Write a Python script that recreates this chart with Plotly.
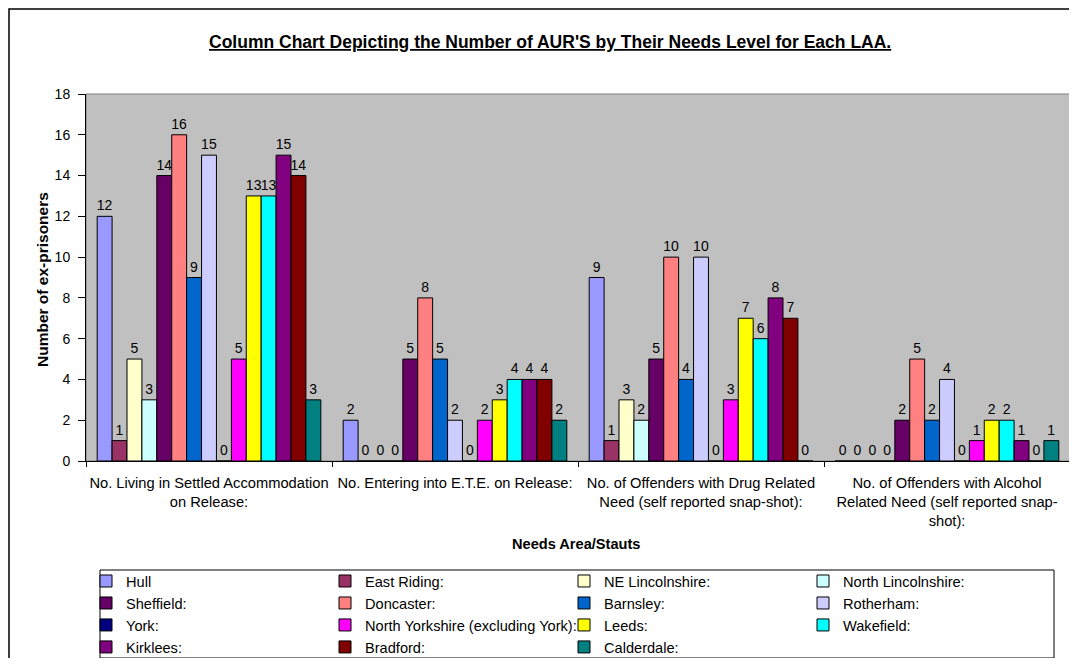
import plotly.graph_objects as go

categories = [
    "No. Living in Settled Accommodation<br>on Release:",
    "No. Entering into E.T.E. on Release:",
    "No. of Offenders with Drug Related<br>Need (self reported snap-shot):",
    "No. of Offenders with Alcohol<br>Related Need (self reported snap-<br>shot):",
]

series_names = [
    "Hull", "East Riding:", "NE Lincolnshire:", "North Lincolnshire:",
    "Sheffield:", "Doncaster:", "Barnsley:", "Rotherham:",
    "York:", "North Yorkshire (excluding York):", "Leeds:", "Wakefield:",
    "Kirklees:", "Bradford:", "Calderdale:",
]

hull = [12, 2, 9, 0]
east_riding = [1, 0, 1, 0]
ne_lincolnshire = [5, 0, 3, 0]
north_lincolnshire = [3, 0, 2, 0]
sheffield = [14, 5, 5, 2]
doncaster = [16, 8, 10, 5]
barnsley = [9, 5, 4, 2]
rotherham = [15, 2, 10, 4]
york = [0, 0, 0, 0]
north_yorkshire = [5, 2, 3, 1]
leeds = [13, 3, 7, 2]
wakefield = [13, 4, 6, 2]
kirklees = [15, 4, 8, 1]
bradford = [14, 4, 7, 0]
calderdale = [3, 2, 0, 1]

series_values = [
    hull, east_riding, ne_lincolnshire, north_lincolnshire,
    sheffield, doncaster, barnsley, rotherham,
    york, north_yorkshire, leeds, wakefield,
    kirklees, bradford, calderdale,
]

colors = [
    "#9999FF", "#993366", "#FFFFCC", "#CCFFFF",
    "#660066", "#FF8080", "#0066CC", "#CCCCFF",
    "#000080", "#FF00FF", "#FFFF00", "#00FFFF",
    "#800080", "#800000", "#008080",
]

y_ticks = list(range(0, 19, 2))

FONT = "Liberation Sans, Arial, sans-serif"
OFF = 8  # page body margin
W, H = 1069, 650
L, R, T, B = 78, 7, 86, 197
PW = W - L - R
PH = H - T - B


def px_x(px):
    return (px - OFF - L) / PW


def px_y(py):
    return (H - B - (py - OFF)) / PH


fig = go.Figure()
for name, vals, col in zip(series_names, series_values, colors):
    fig.add_trace(go.Bar(
        name=name, x=categories, y=vals,
        marker=dict(color=col, line=dict(color="black", width=1)),
        text=[str(v) for v in vals], textposition="outside",
        textangle=0, constraintext="none", cliponaxis=False,
        textfont=dict(family=FONT, size=14, color="black"),
        hoverinfo="name+y",
    ))

fig.update_layout(
    width=W, height=H,
    margin=dict(l=L, r=R, t=T, b=B, autoexpand=False),
    paper_bgcolor="white", plot_bgcolor="#C0C0C0",
    barmode="group", bargap=1.5 / 16.5, bargroupgap=0,
    font=dict(family=FONT, size=14, color="black"),
    showlegend=True,
    legend=dict(
        orientation="h", x=px_x(86), y=px_y(565),
        xanchor="left", yanchor="top",
        entrywidth=194, entrywidthmode="pixels",
        borderwidth=0, bgcolor="rgba(0,0,0,0)",
        font=dict(family=FONT, size=14.6, color="black"),
        traceorder="normal",
    ),
    xaxis=dict(
        showline=True, linecolor="black", linewidth=1,
        ticks="outside", tickson="boundaries", ticklen=5, tickcolor="black",
        ticklabelstandoff=8, tickangle=0,
        tickfont=dict(family=FONT, size=14.7, color="black"),
        showgrid=False, zeroline=False,
    ),
    yaxis=dict(
        range=[0, 18], tickvals=y_ticks, ticktext=[str(v) for v in y_ticks],
        showline=True, linecolor="black", linewidth=1,
        ticks="outside", ticklen=7, tickcolor="black",
        ticklabelstandoff=5,
        tickfont=dict(family=FONT, size=14, color="black"),
        showgrid=False, zeroline=False,
    ),
    shapes=[
        dict(type="rect", xref="paper", yref="paper", x0=0, x1=1, y0=0, y1=1,
             line=dict(color="#808080", width=1), layer="below"),
        dict(type="rect", xref="paper", yref="paper",
             x0=px_x(9), x1=px_x(1100), y0=px_y(700), y1=px_y(9),
             line=dict(color="black", width=1.5), fillcolor="rgba(0,0,0,0)"),
        dict(type="rect", xref="paper", yref="paper",
             x0=px_x(100), x1=px_x(1054), y0=px_y(658), y1=px_y(570),
             line=dict(color="black", width=1), fillcolor="rgba(0,0,0,0)"),
    ],
    annotations=[
        dict(text="<b><u>Column Chart Depicting the Number of AUR'S by Their Needs Level for Each LAA.</u></b>",
             xref="paper", yref="paper", x=px_x(550), y=px_y(42),
             xanchor="center", yanchor="middle", showarrow=False,
             font=dict(family=FONT, size=17.5, color="black")),
        dict(text="<b>Number of ex-prisoners</b>", textangle=-90,
             xref="paper", yref="paper", x=px_x(42), y=px_y(280),
             xanchor="center", yanchor="middle", showarrow=False,
             font=dict(family=FONT, size=15.5, color="black")),
        dict(text="<b>Needs Area/Stauts</b>",
             xref="paper", yref="paper", x=px_x(576), y=px_y(544),
             xanchor="center", yanchor="middle", showarrow=False,
             font=dict(family=FONT, size=14.6, color="black")),
    ],
)

fig.write_html("out.html")
